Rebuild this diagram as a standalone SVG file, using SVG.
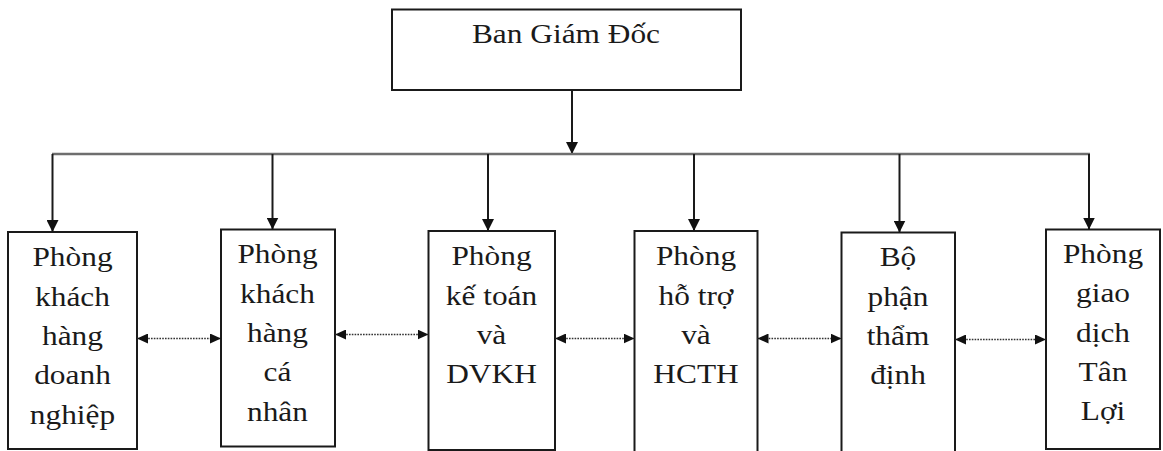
<svg xmlns="http://www.w3.org/2000/svg" width="1163" height="451" viewBox="0 0 1163 451">
  <style>
    .box { fill: #ffffff; stroke: #1a1a1a; stroke-width: 2; }
    .lbl { font-family: "Liberation Serif", "Times New Roman", serif; font-size: 28px; fill: #1a1a1a; text-anchor: middle; }
    .bus { stroke: #6e6e6e; stroke-width: 2.5; fill: none; }
    .drop { stroke: #1a1a1a; stroke-width: 2; fill: none; marker-end: url(#head); }
    .link { stroke: #333333; stroke-width: 1.6; stroke-dasharray: 1.6 1.2; fill: none; marker-start: url(#tip); marker-end: url(#tip); }
  </style>
  <defs>
    <marker id="head" markerUnits="userSpaceOnUse" viewBox="0 0 12 12" markerWidth="12" markerHeight="12" refX="12" refY="6" orient="auto">
      <path d="M0,0 L12,6 L0,12 z" fill="#111111"/>
    </marker>
    <marker id="tip" markerUnits="userSpaceOnUse" viewBox="0 0 11 10" markerWidth="11" markerHeight="10" refX="11" refY="5" orient="auto-start-reverse">
      <path d="M0,0 L11,5 L0,10 z" fill="#111111"/>
    </marker>
  </defs>

  <rect width="1163" height="451" fill="#ffffff"/>

  <!-- board of directors -->
  <g id="ban-giam-doc">
    <rect class="box" x="392" y="9.5" width="349" height="80.5"/>
    <g transform="translate(566,0) scale(1.12,1)">
      <text class="lbl" x="0" y="43">Ban Giám Đốc</text>
    </g>
  </g>

  <!-- departments -->
  <g id="phong-khdn">
    <rect class="box" x="8" y="232" width="129" height="217"/>
    <g transform="translate(72.5,0) scale(1.12,1)">
      <text class="lbl" x="0" y="266.5">Phòng</text>
      <text class="lbl" x="0" y="305.8">khách</text>
      <text class="lbl" x="0" y="345.1">hàng</text>
      <text class="lbl" x="0" y="384.4">doanh</text>
      <text class="lbl" x="0" y="423.7">nghiệp</text>
    </g>
  </g>

  <g id="phong-khcn">
    <rect class="box" x="221" y="229.5" width="114" height="217"/>
    <g transform="translate(277.5,0) scale(1.12,1)">
      <text class="lbl" x="0" y="263.5">Phòng</text>
      <text class="lbl" x="0" y="302.8">khách</text>
      <text class="lbl" x="0" y="342.1">hàng</text>
      <text class="lbl" x="0" y="381.4">cá</text>
      <text class="lbl" x="0" y="420.7">nhân</text>
    </g>
  </g>

  <g id="phong-ketoan">
    <rect class="box" x="428.5" y="231" width="126.5" height="219"/>
    <g transform="translate(491.5,0) scale(1.12,1)">
      <text class="lbl" x="0" y="265.5">Phòng</text>
      <text class="lbl" x="0" y="304.8">kế toán</text>
      <text class="lbl" x="0" y="344.1">và</text>
      <text class="lbl" x="0" y="383.4">DVKH</text>
    </g>
  </g>

  <g id="phong-hotro">
    <rect class="box" x="634.5" y="231" width="123" height="230"/>
    <g transform="translate(696,0) scale(1.12,1)">
      <text class="lbl" x="0" y="265.5">Phòng</text>
      <text class="lbl" x="0" y="304.8">hỗ trợ</text>
      <text class="lbl" x="0" y="344.1">và</text>
      <text class="lbl" x="0" y="383.4">HCTH</text>
    </g>
  </g>

  <g id="bo-phan-tham-dinh">
    <rect class="box" x="841.5" y="232.5" width="113.5" height="230"/>
    <g transform="translate(898,0) scale(1.12,1)">
      <text class="lbl" x="0" y="266.5">Bộ</text>
      <text class="lbl" x="0" y="305.8">phận</text>
      <text class="lbl" x="0" y="345.1">thẩm</text>
      <text class="lbl" x="0" y="384.4">định</text>
    </g>
  </g>

  <g id="pgd-tan-loi">
    <rect class="box" x="1046" y="229.5" width="114" height="219.5"/>
    <g transform="translate(1103,0) scale(1.12,1)">
      <text class="lbl" x="0" y="263">Phòng</text>
      <text class="lbl" x="0" y="302.3">giao</text>
      <text class="lbl" x="0" y="341.6">dịch</text>
      <text class="lbl" x="0" y="380.9">Tân</text>
      <text class="lbl" x="0" y="420.2">Lợi</text>
    </g>
  </g>

  <!-- connectors -->
  <g id="connectors">
    <line class="drop" x1="572" y1="90" x2="572" y2="154"/>
    <line class="bus" x1="52" y1="154" x2="1090" y2="154"/>
    <line class="drop" x1="52.5" y1="154" x2="52.5" y2="232"/>
    <line class="drop" x1="272.5" y1="154" x2="272.5" y2="229.5"/>
    <line class="drop" x1="488" y1="154" x2="488" y2="231"/>
    <line class="drop" x1="694" y1="154" x2="694" y2="231"/>
    <line class="drop" x1="899.5" y1="154" x2="899.5" y2="232.5"/>
    <line class="drop" x1="1089" y1="154" x2="1089" y2="229.5"/>

    <line class="link" x1="137" y1="338.5" x2="221" y2="338.5"/>
    <line class="link" x1="335" y1="334.5" x2="428.5" y2="334.5"/>
    <line class="link" x1="555" y1="338.5" x2="634.5" y2="338.5"/>
    <line class="link" x1="757.5" y1="338.5" x2="841.5" y2="338.5"/>
    <line class="link" x1="955" y1="339.5" x2="1046" y2="339.5"/>
  </g>
</svg>
